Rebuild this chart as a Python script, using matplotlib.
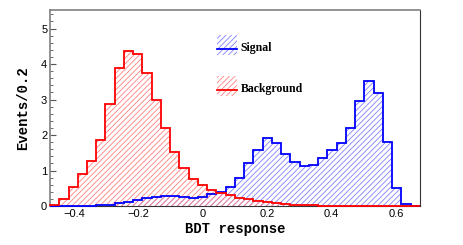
import matplotlib.pyplot as plt
import numpy as np
from matplotlib.patches import Rectangle
from matplotlib.lines import Line2D

# ------------------------- data -------------------------
x_low, x_high, n_bins = -0.475, 0.675, 40

background = [0.02, 0.20, 0.54, 0.91, 1.26, 1.87, 2.88, 3.89, 4.38, 4.27,
              3.76, 3.00, 2.21, 1.53, 1.06, 0.76, 0.58, 0.45, 0.38, 0.30,
              0.24, 0.19, 0.14, 0.11, 0.075, 0.05, 0.035, 0.025, 0.018, 0.012,
              0.008, 0.005, 0.003, 0.002, 0.0, 0.0, 0.0, 0.0, 0.0, 0.0]

signal = [0.0, 0.0, 0.003, 0.006, 0.01, 0.02, 0.04, 0.08, 0.12, 0.17,
          0.22, 0.26, 0.28, 0.27, 0.25, 0.23, 0.25, 0.33, 0.40, 0.53,
          0.78, 1.20, 1.58, 1.92, 1.78, 1.46, 1.25, 1.13, 1.17, 1.36,
          1.58, 1.77, 2.19, 2.97, 3.52, 3.17, 1.81, 0.50, 0.06, 0.0]

x_ticks = [-0.4, -0.2, 0, 0.2, 0.4, 0.6]
x_tick_labels = ["\u22120.4", "\u22120.2", "0", "0.2", "0.4", "0.6"]
y_ticks = [0, 1, 2, 3, 4, 5]

edges = np.linspace(x_low, x_high, n_bins + 1)

plt.rcParams['hatch.linewidth'] = 0.6

fig = plt.figure(figsize=(4.63, 2.45), dpi=100)
ax = fig.add_axes([0.108, 0.159, 0.799, 0.800])

# hatched fills first, then the outlines on top (above the spines too)
ax.stairs(signal, edges, fill=True, facecolor='none', edgecolor='#8080ff',
          hatch='//////', linewidth=0)
ax.stairs(background, edges, fill=True, facecolor='none', edgecolor='#ff8080',
          hatch='//////', linewidth=0)
ax.stairs(signal, edges, baseline=0, color='#0000ff', linewidth=1.3,
          zorder=3, clip_on=False)
ax.stairs(background, edges, baseline=0, color='#ff0000', linewidth=1.3,
          zorder=3, clip_on=False)

ax.set_xlim(x_low, x_high)
ax.set_ylim(0, 5.52)

ax.set_xticks(x_ticks)
ax.set_xticklabels(x_tick_labels, fontsize=8, family='Liberation Sans')
ax.set_yticks(y_ticks)
ax.set_yticklabels([str(v) for v in y_ticks], fontsize=8, family='Liberation Sans')
ax.set_yticks(np.arange(0, 5.5, 0.2), minor=True)
ax.tick_params(axis='both', which='major', direction='in', length=4, width=0.8,
               color='#555555', pad=2)
ax.tick_params(axis='y', which='minor', direction='in', length=2, width=0.6,
               color='#555555')
ax.tick_params(axis='x', which='major', length=0)

for side in ['left', 'top']:
    ax.spines[side].set_color('#808080')
    ax.spines[side].set_linewidth(1.2)
ax.spines['right'].set_color('#333333')
ax.spines['bottom'].set_color('#333333')

ax.set_xlabel("BDT response", family='Liberation Mono', fontweight='bold',
              fontsize=10, labelpad=2)
ax.set_ylabel("Events/0.2", family='Liberation Mono', fontweight='bold',
              fontsize=10, labelpad=8)

# ROOT style legend: hatched box with a line through it
legend_items = [("Signal", '#8080ff', '#0000ff', 0.770, 0.801),
                ("Background", '#ff8080', '#ff0000', 0.561, 0.592)]
for label, hatch_col, line_col, box_y, line_y in legend_items:
    ax.add_patch(Rectangle((0.451, box_y), 0.054, 0.102, transform=ax.transAxes,
                           facecolor='none', edgecolor=hatch_col, hatch='//////',
                           linewidth=0))
    ax.add_line(Line2D([0.451, 0.505], [line_y, line_y], transform=ax.transAxes,
                       color=line_col, linewidth=1.3))
    ax.text(0.516, line_y + 0.005, label, transform=ax.transAxes, va='center',
            ha='left', family='Liberation Serif', fontweight='bold', fontsize=8.5)

fig.savefig("out.png", dpi=100)
